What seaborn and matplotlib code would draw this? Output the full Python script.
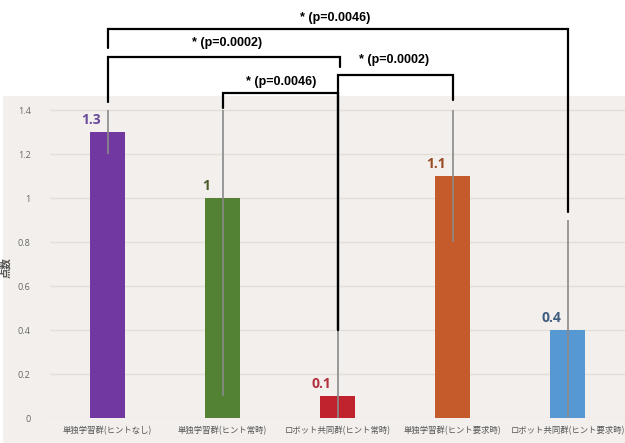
import numpy as np
import pandas as pd
import matplotlib
matplotlib.use("Agg")
import matplotlib.pyplot as plt
import seaborn as sns
from matplotlib.patches import Rectangle

# Data
groups = ["単独学習群(ヒントなし)", "単独学習群(ヒント常時)", "ロボット共同群(ヒント常時)",
          "単独学習群(ヒント要求時)", "ロボット共同群(ヒント要求時)"]
scores = [1.3, 1.0, 0.1, 1.1, 0.4]
score_labels = ["1.3", "1", "0.1", "1.1", "0.4"]
err_low = [0.1, 0.9, 0.1, 0.3, 0.4]
err_high = [0.1, 0.4, 0.3, 0.3, 0.5]
bar_colors = ["#7038a0", "#548235", "#c0232e", "#c55a2b", "#5598d2"]
label_colors = ["#6a4c9c", "#4a5a2c", "#b3303c", "#9a4a24", "#3f5d7e"]

# significance brackets: (left group, right group, p label)
pairs = [(0, 4, "* (p=0.0046)"), (0, 2, "* (p=0.0002)"),
         (2, 3, "* (p=0.0002)"), (1, 2, "* (p=0.0046)")]

df = pd.DataFrame({"group": groups, "score": scores})

sns.set_style("white")
plt.rcParams['font.family'] = ['Noto Sans CJK JP', 'DejaVu Sans']

fig = plt.figure(figsize=(6.25, 4.43), dpi=100)
ax = fig.add_axes([0.08, 0.0564, 0.92, 0.9436])

# light panel behind the chart
fig.patches.append(Rectangle((0.005, 0), 1.0, 0.783, transform=fig.transFigure,
                             facecolor="#f2efec", edgecolor="none", zorder=-1))
ax.set_facecolor("none")

sns.barplot(data=df, x="group", y="score", hue="group", palette=bar_colors,
            width=0.31, saturation=1, legend=False, ax=ax, zorder=3,
            linewidth=0, edgecolor="none")

xs = np.arange(len(groups))
ax.errorbar(xs, scores, yerr=[err_low, err_high], fmt="none",
            ecolor="#8a8a8a", elinewidth=1.2, capsize=0, zorder=4)

for i, (v, t) in enumerate(zip(scores, score_labels)):
    ax.text(i - 0.14, v + 0.055, t, ha="center", va="center", fontsize=10,
            fontweight="bold", color=label_colors[i], family="Open Sans")

# brackets
top_y = [1.768, 1.641, 1.559, 1.477]
leg_ends = [(1.682, 0.936), (1.436, 1.595), (0.40, 1.445), (1.41, 0.40)]
x_shift = [(0, 0), (0, 0.025), (0, 0), (0, 0)]
text_pos = [(1.978, 1.818), (1.04, 1.705), (2.49, 1.627), (1.51, 1.527)]
for (a, b, lab), y, (ea, eb), (sa, sb), (tx, ty) in zip(pairs, top_y, leg_ends, x_shift, text_pos):
    ax.plot([a + sa, a + sa, b + sb, b + sb], [ea, y, y, eb], color="black",
            lw=1.6, solid_joinstyle="miter", zorder=5, clip_on=False)
    ax.text(tx, ty, lab, ha="center", va="center", fontsize=9, fontweight="bold",
            family="Liberation Sans", color="black")

ax.set_xlim(-0.5, 4.5)
ax.set_ylim(0, 1.9)
yt = [0, 0.2, 0.4, 0.6, 0.8, 1.0, 1.2, 1.4]
ax.set_yticks(yt)
ax.set_yticklabels(["0", "0.2", "0.4", "0.6", "0.8", "1", "1.2", "1.4"],
                   fontsize=6.5, color="#666666", family="Open Sans")
ax.yaxis.grid(True, color="#e2dfdb", lw=1)
ax.set_axisbelow(True)
for s in ax.spines.values():
    s.set_visible(False)
ax.tick_params(axis="y", length=0, pad=14)
ax.tick_params(axis="x", length=0, pad=6, labelsize=6, labelcolor="#555555")
ax.set_xlabel("")
ax.set_ylabel("点数", fontsize=7.5, fontweight="bold", color="#555555", labelpad=6)
ax.yaxis.set_label_coords(-0.068, 0.36)

fig.savefig("out.png", dpi=100)
